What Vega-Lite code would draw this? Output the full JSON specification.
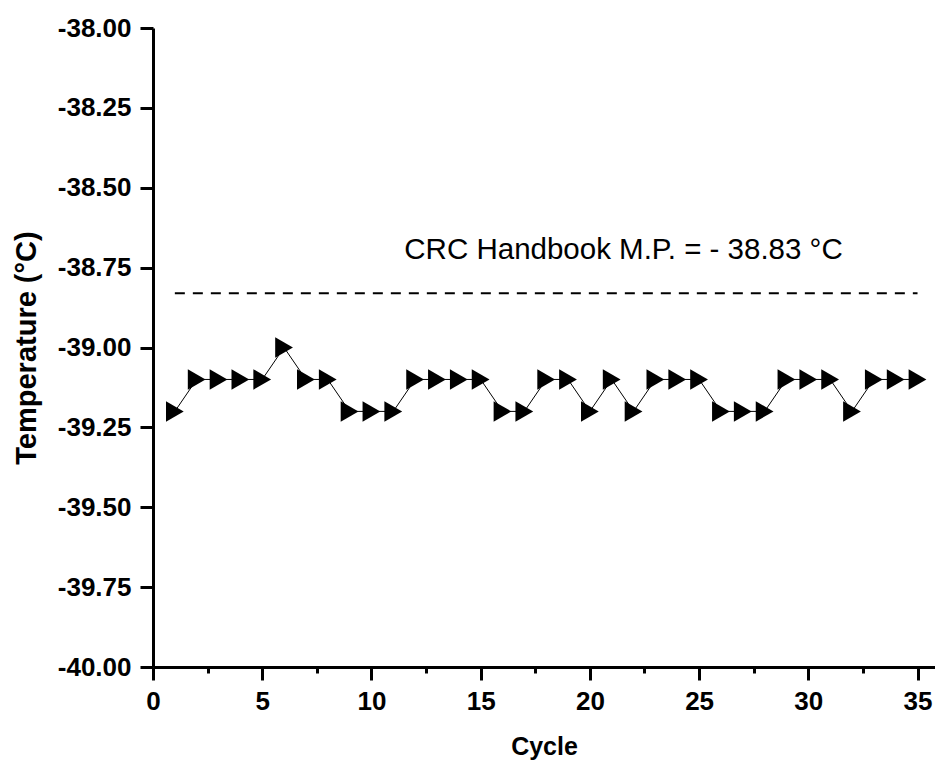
{
  "$schema": "https://vega.github.io/schema/vega-lite/v6.json",
  "width": 782,
  "height": 639,
  "autosize": {"type": "none"},
  "padding": {"left": 153, "top": 28, "right": 0, "bottom": 98},
  "background": "white",
  "config": {
    "view": {"stroke": null},
    "font": "Liberation Sans",
    "axis": {
      "grid": false,
      "domainColor": "black",
      "domainWidth": 3,
      "tickColor": "black",
      "tickWidth": 3,
      "labelFont": "Liberation Sans",
      "labelFontWeight": "bold",
      "labelFontSize": 26,
      "labelColor": "black",
      "titleFont": "Liberation Sans",
      "titleFontWeight": "bold",
      "titleColor": "black"
    }
  },
  "datasets": {
    "temps": [
      {"cycle": 1, "temp": -39.2}, {"cycle": 2, "temp": -39.1}, {"cycle": 3, "temp": -39.1},
      {"cycle": 4, "temp": -39.1}, {"cycle": 5, "temp": -39.1}, {"cycle": 6, "temp": -39.0},
      {"cycle": 7, "temp": -39.1}, {"cycle": 8, "temp": -39.1}, {"cycle": 9, "temp": -39.2},
      {"cycle": 10, "temp": -39.2}, {"cycle": 11, "temp": -39.2}, {"cycle": 12, "temp": -39.1},
      {"cycle": 13, "temp": -39.1}, {"cycle": 14, "temp": -39.1}, {"cycle": 15, "temp": -39.1},
      {"cycle": 16, "temp": -39.2}, {"cycle": 17, "temp": -39.2}, {"cycle": 18, "temp": -39.1},
      {"cycle": 19, "temp": -39.1}, {"cycle": 20, "temp": -39.2}, {"cycle": 21, "temp": -39.1},
      {"cycle": 22, "temp": -39.2}, {"cycle": 23, "temp": -39.1}, {"cycle": 24, "temp": -39.1},
      {"cycle": 25, "temp": -39.1}, {"cycle": 26, "temp": -39.2}, {"cycle": 27, "temp": -39.2},
      {"cycle": 28, "temp": -39.2}, {"cycle": 29, "temp": -39.1}, {"cycle": 30, "temp": -39.1},
      {"cycle": 31, "temp": -39.1}, {"cycle": 32, "temp": -39.2}, {"cycle": 33, "temp": -39.1},
      {"cycle": 34, "temp": -39.1}, {"cycle": 35, "temp": -39.1}
    ],
    "ref": [{"x0": 1, "x1": 35, "temp": -38.83}],
    "note": [{"cycle": 21.54, "temp": -38.695, "label": "CRC Handbook M.P. = - 38.83 °C"}]
  },
  "layer": [
    {
      "data": {"name": "ref"},
      "mark": {"type": "rule", "color": "black", "strokeWidth": 2, "strokeDash": [10, 8]},
      "encoding": {
        "x": {"field": "x0", "type": "quantitative", "scale": {"domain": [0, 35.8], "nice": false, "zero": false},
          "axis": {
            "title": "Cycle", "titleFontSize": 25, "titlePadding": 20,
            "values": [0, 2.5, 5, 7.5, 10, 12.5, 15, 17.5, 20, 22.5, 25, 27.5, 30, 32.5, 35],
            "labelExpr": "datum.value % 5 == 0 ? format(datum.value, 'd') : ''",
            "tickSize": {"condition": {"test": "datum.value % 5 == 0", "value": 13}, "value": 6},
            "labelPadding": 8, "labelOverlap": false, "labelFlush": false
          }},
        "x2": {"field": "x1"},
        "y": {"field": "temp", "type": "quantitative", "scale": {"domain": [-40, -38], "nice": false, "zero": false},
          "axis": {
            "title": "Temperature (°C)", "titleFontSize": 29, "titlePadding": 16,
            "values": [-40, -39.875, -39.75, -39.625, -39.5, -39.375, -39.25, -39.125, -39, -38.875, -38.75, -38.625, -38.5, -38.375, -38.25, -38.125, -38],
            "labelExpr": "abs(datum.value * 4 - round(datum.value * 4)) < 0.001 ? replace(format(datum.value, '.2f'), '\u2212', '-') : ''",
            "tickSize": {"condition": {"test": "abs(datum.value * 4 - round(datum.value * 4)) < 0.001", "value": 13}, "value": 6},
            "labelPadding": 9, "labelOverlap": false, "labelFlush": false
          }}
      }
    },
    {
      "data": {"name": "temps"},
      "mark": {"type": "line", "color": "black", "strokeWidth": 1},
      "encoding": {
        "x": {"field": "cycle", "type": "quantitative"},
        "y": {"field": "temp", "type": "quantitative"}
      }
    },
    {
      "data": {"name": "temps"},
      "mark": {"type": "point", "shape": "triangle-right", "filled": true, "color": "black", "opacity": 1, "size": 420},
      "encoding": {
        "x": {"field": "cycle", "type": "quantitative"},
        "y": {"field": "temp", "type": "quantitative"}
      }
    },
    {
      "data": {"name": "note"},
      "mark": {"type": "text", "font": "Liberation Sans", "fontSize": 29.5, "color": "black", "align": "center", "baseline": "middle"},
      "encoding": {
        "x": {"field": "cycle", "type": "quantitative"},
        "y": {"field": "temp", "type": "quantitative"},
        "text": {"field": "label"}
      }
    }
  ]
}
